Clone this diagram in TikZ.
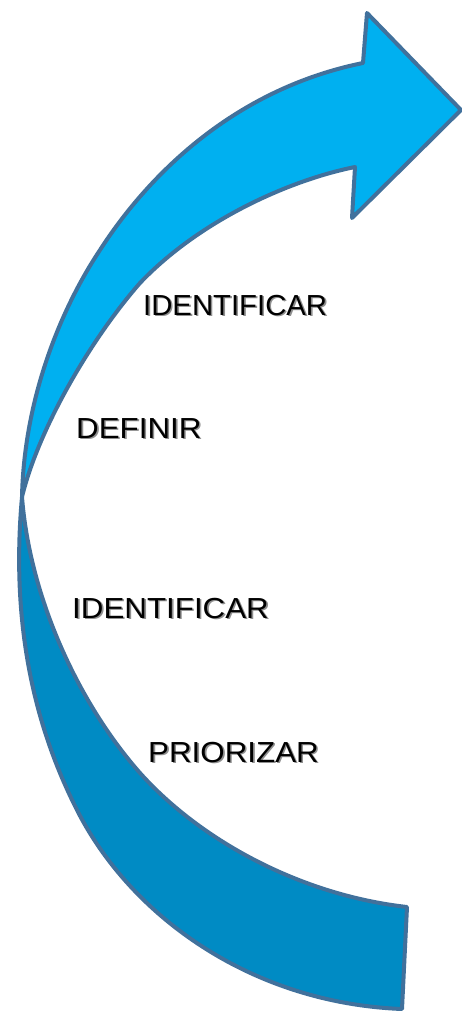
\documentclass[tikz,border=0pt]{standalone}
\usepackage{fontspec}
\setmainfont{Liberation Sans}
\definecolor{lightband}{HTML}{00B0F0}
\definecolor{darkband}{HTML}{008BC4}
\definecolor{bandline}{HTML}{41719C}
\begin{document}
\begin{tikzpicture}[x=1pt,y=-1pt,
  band/.style={draw=bandline,line width=4pt,line join=round},
  lbl/.style={inner sep=0pt,anchor=base west,font=\fontsize{29}{31}\selectfont,text=black},
  shd/.style={inner sep=0pt,anchor=base west,font=\fontsize{29}{31}\selectfont,text=black!55,opacity=0.8}]
\useasboundingbox (0,0) rectangle (462,1011);
% lower (darker) band
\path[band,fill=darkband]
  (22,497) .. controls (10,630) and (37,731) .. (77,810)
  .. controls (130,915) and (250,1003) .. (402,1009)
  -- (407,907)
  .. controls (300,895) and (200,840) .. (140,773)
  .. controls (80,705) and (30,600) .. (22,497)
  -- cycle;
% upper (lighter) band with arrowhead
\path[band,fill=lightband]
  (22,497) .. controls (24,400) and (60,310) .. (100,250)
  .. controls (145,180) and (230,90) .. (363,63)
  -- (367,13) -- (461,110) -- (352,218) -- (355,167)
  .. controls (290,180) and (200,220) .. (140,283)
  .. controls (90,340) and (38,430) .. (22,497)
  -- cycle;
% labels with soft shadow
\node[shd,xscale=1.01] (s1) at (144.6,316.6) {IDENTIFICAR};
\node[lbl,xscale=1.01] (t1) at (143,315) {IDENTIFICAR};
\node[shd,xscale=1.08] (s2) at (77.6,439.6) {DEFINIR};
\node[lbl,xscale=1.08] (t2) at (76,438) {DEFINIR};
\node[shd,xscale=1.08] (s3) at (73.6,619.6) {IDENTIFICAR};
\node[lbl,xscale=1.08] (t3) at (72,618) {IDENTIFICAR};
\node[shd,xscale=1.08] (s4) at (149.6,763.6) {PRIORIZAR};
\node[lbl,xscale=1.08] (t4) at (148,762) {PRIORIZAR};
\end{tikzpicture}
\end{document}
